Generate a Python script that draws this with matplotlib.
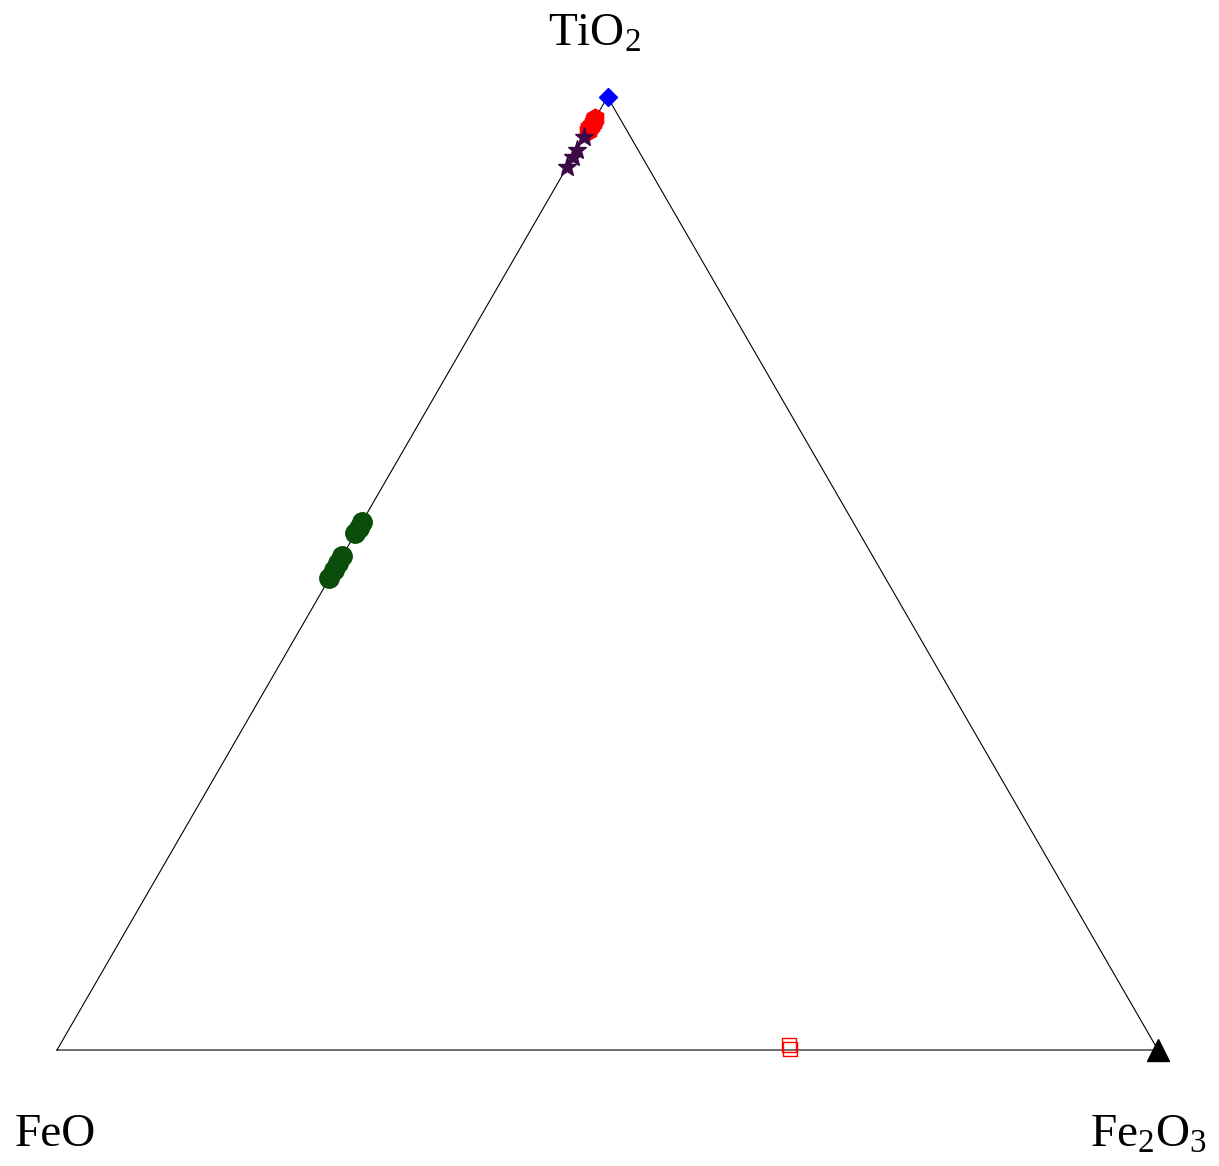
import numpy as np
import matplotlib
matplotlib.use("Agg")
import matplotlib.pyplot as plt

plt.rcParams["font.family"] = ["Liberation Serif", "DejaVu Serif"]
plt.rcParams["mathtext.fontset"] = "custom"
plt.rcParams["mathtext.rm"] = "Liberation Serif"
plt.rcParams["mathtext.it"] = "Liberation Serif:italic"

# Compositions in wt% as (FeO, Fe2O3, TiO2)
rutile_feo = [0.0]
rutile_fe2o3 = [0.0]
rutile_tio2 = [100.0]

red_feo = [3.6, 3.3, 3.0, 2.7, 2.4, 2.2]
red_fe2o3 = [0.0, 0.0, 0.0, 0.0, 0.0, 0.0]
red_tio2 = [96.4, 96.7, 97.0, 97.3, 97.6, 97.8]

star_feo = [4.2, 5.6, 6.3, 7.3]
star_fe2o3 = [0.0, 0.0, 0.0, 0.0]
star_tio2 = [95.8, 94.4, 93.7, 92.7]

green_feo = [44.6, 45.2, 45.8, 48.2, 48.9, 49.6, 50.5]
green_fe2o3 = [0.0, 0.0, 0.0, 0.0, 0.0, 0.0, 0.0]
green_tio2 = [55.4, 54.8, 54.2, 51.8, 51.1, 50.4, 49.5]

square_feo = [33.25, 33.37]
square_fe2o3 = [66.23, 66.53]
square_tio2 = [0.52, 0.10]

hematite_feo = [0.0]
hematite_fe2o3 = [100.0]
hematite_tio2 = [0.0]

vertex_labels = ["FeO", r"Fe$_2$O$_3$", r"TiO$_2$"]

H = np.sqrt(3) / 2


def to_xy(feo, fe2o3, tio2):
    a = np.asarray(feo, float)
    b = np.asarray(fe2o3, float)
    c = np.asarray(tio2, float)
    s = a + b + c
    b, c = b / s, c / s
    return b + c / 2, c * H


fig = plt.figure(figsize=(12.19, 11.66), dpi=100)
ax = fig.add_axes([57 / 1219, 116 / 1166, 1101 / 1219, 953 / 1166])
ax.set_xlim(0, 1)
ax.set_ylim(0, H)
ax.axis("off")

# triangle frame
ax.plot([0, 1, 0.5, 0], [0, 0, H, 0], color="black", lw=0.8, clip_on=False, zorder=1)

common = dict(linestyle="none", clip_on=False)

x, y = to_xy(green_feo, green_fe2o3, green_tio2)
ax.plot(x, y, marker="o", ms=14, color="#0a4d0a", mec="#0a4d0a", zorder=3, **common)

x, y = to_xy(red_feo, red_fe2o3, red_tio2)
ax.plot(x, y, marker="h", ms=13.5, color="#ff0000", mec="#ff0000", zorder=3, **common)

x, y = to_xy(star_feo, star_fe2o3, star_tio2)
ax.plot(x, y, marker="*", ms=14, color="#3d0a48", mec="#3d0a48", zorder=4, **common)

x, y = to_xy(rutile_feo, rutile_fe2o3, rutile_tio2)
ax.plot(x, y, marker="D", ms=9.5, color="#0000ff", mec="#0000ff", zorder=4, **common)

x, y = to_xy(square_feo, square_fe2o3, square_tio2)
ax.plot(x, y, marker="s", ms=10, mfc="none", mec="#ff0000", mew=1.0, zorder=4, **common)

x, y = to_xy(hematite_feo, hematite_fe2o3, hematite_tio2)
ax.plot(x, y, marker="^", ms=16, color="black", mec="black", zorder=4, **common)

# vertex labels
fig.text(55 / 1219, 1 - 1135 / 1166, vertex_labels[0], fontsize=34,
         ha="center", va="center")
fig.text(1148 / 1219, 1 - 1135 / 1166, vertex_labels[1], fontsize=34,
         ha="center", va="center")
fig.text(595 / 1219, 1 - 34 / 1166, vertex_labels[2], fontsize=34,
         ha="center", va="center")

fig.savefig("out.png", dpi=100)
